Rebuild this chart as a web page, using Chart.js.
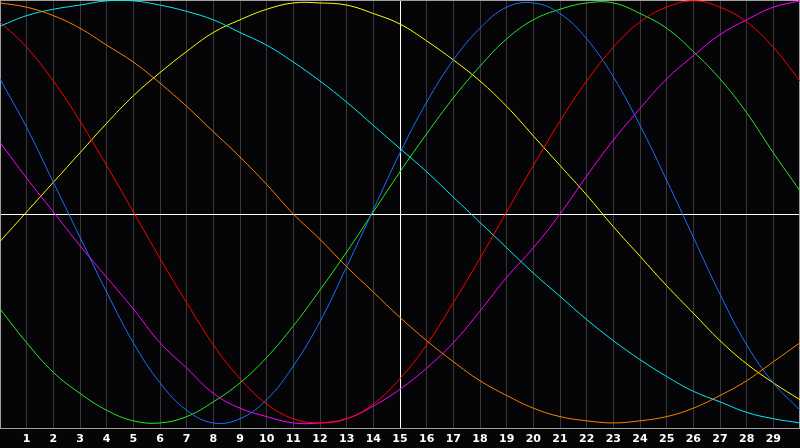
<!DOCTYPE html>
<html>
<head>
<meta charset="utf-8">
<script src="https://cdn.jsdelivr.net/npm/chart.js@4.4.1/dist/chart.umd.min.js"></script>
<style>
  html, body { margin: 0; padding: 0; background: #050508; }
  #wrap { width: 800px; height: 448px; }
</style>
</head>
<body>
<div id="wrap"><canvas id="waves"></canvas></div>
<script>
var xs = [0, 1, 2, 3, 4, 5, 6, 7, 8, 9, 10, 11, 12, 13, 14, 15, 16, 17, 18, 19, 20, 21, 22, 23, 24, 25, 26, 27, 28, 29, 30];

var orange  = [100, 98, 94, 88, 80, 72, 62, 51, 39, 27, 14, 0, -12, -25, -37, -49, -60, -70, -79, -86, -92, -96, -98, -99, -98, -96, -92, -86, -79, -70, -61];
var cyan    = [89, 94, 97, 99, 101, 101, 99, 96, 92, 86, 80, 72, 63, 53, 42, 31, 20, 8, -4, -16, -28, -39, -50, -60, -69, -77, -84, -89, -94, -97, -99];
var red     = [91, 79, 63, 44, 23, 1, -21, -42, -62, -78, -90, -97, -99, -97, -90, -78, -62, -42, -21, 1, 23, 44, 63, 79, 91, 98, 101, 98, 91, 79, 63];
var blue    = [64, 41, 15, -11, -37, -61, -80, -93, -99, -97, -88, -72, -51, -25, 2, 29, 53, 73, 88, 98, 100, 95, 83, 65, 42, 16, -11, -38, -62, -80, -93];
var magenta = [34, 17, 1, -15, -30, -45, -61, -73, -85, -92, -96, -99, -99, -97, -91, -83, -73, -61, -46, -30, -16, 0, 18, 35, 50, 64, 75, 85, 92, 98, 101];
var green   = [-45, -61, -75, -85, -93, -98, -99, -96, -89, -80, -68, -53, -36, -18, 1, 20, 38, 55, 70, 83, 92, 97, 100, 100, 95, 88, 77, 64, 48, 29, 11];
var yellow  = [-13, 1, 15, 29, 43, 56, 67, 77, 86, 92, 97, 100, 100, 99, 95, 90, 82, 73, 63, 51, 37, 23, 9, -6, -20, -34, -47, -60, -71, -80, -88];

var tickValues = [1, 2, 3, 4, 5, 6, 7, 8, 9, 10, 11, 12, 13, 14, 15, 16, 17, 18, 19, 20, 21, 22, 23, 24, 25, 26, 27, 28, 29];

function pts(arr) {
  return arr.map(function (v, i) { return { x: xs[i], y: v }; });
}

function line(arr, color) {
  return {
    data: pts(arr),
    borderColor: color,
    borderWidth: 1,
    pointRadius: 0,
    pointHoverRadius: 0,
    tension: 0.4,
    fill: false
  };
}

// grey frame round the plot
var frame = {
  id: "frame",
  beforeDatasetsDraw: function (chart) {
    var a = chart.chartArea, c = chart.ctx;
    c.save();
    c.strokeStyle = "#a0a0a0";
    c.lineWidth = 1;
    c.strokeRect(a.left + 0.5, a.top + 0.5, a.right - a.left - 1, a.bottom - a.top);
    c.restore();
  }
};

new Chart(document.getElementById("waves"), {
  type: "line",
  data: {
    datasets: [
      line(orange, "#ff8000"),
      line(cyan, "#00f0f0"),
      line(red, "#ff0000"),
      line(blue, "#1e6eff"),
      line(magenta, "#ff00ff"),
      line(green, "#22ee22"),
      line(yellow, "#ffff00")
    ]
  },
  options: {
    responsive: true,
    maintainAspectRatio: false,
    animation: false,
    layout: { padding: 0, autoPadding: false },
    plugins: { legend: { display: false }, tooltip: { enabled: false } },
    scales: {
      x: {
        type: "linear",
        min: 0,
        max: 30,
        afterBuildTicks: function (s) {
          s.ticks = [0].concat(tickValues, [30]).map(function (v) { return { value: v }; });
        },
        afterFit: function (s) { s.height = 20; s.paddingLeft = 0; s.paddingRight = 0; },
        grid: {
          drawTicks: false,
          color: function (ctx) {
            var v = ctx.tick && ctx.tick.value;
            if (v === 15) return "#ffffff";
            if (v === 0 || v === 30) return "rgba(0,0,0,0)";
            return "#383838";
          }
        },
        border: { display: true, color: "#a0a0a0" },
        ticks: {
          autoSkip: false,
          maxRotation: 0,
          padding: 5,
          color: "#ffffff",
          font: { family: "DejaVu Sans", size: 11, weight: "bold" },
          callback: function (v) { return v === 0 || v === 30 ? "" : String(v); }
        }
      },
      y: {
        min: -101.4,
        max: 101.4,
        afterBuildTicks: function (s) {
          s.ticks = [{ value: 0 }];
        },
        afterFit: function (s) { s.width = 0; },
        ticks: { display: false },
        border: { display: false },
        grid: { drawTicks: false, color: "#ffffff" }
      }
    }
  },
  plugins: [frame]
});
</script>
</body>
</html>
